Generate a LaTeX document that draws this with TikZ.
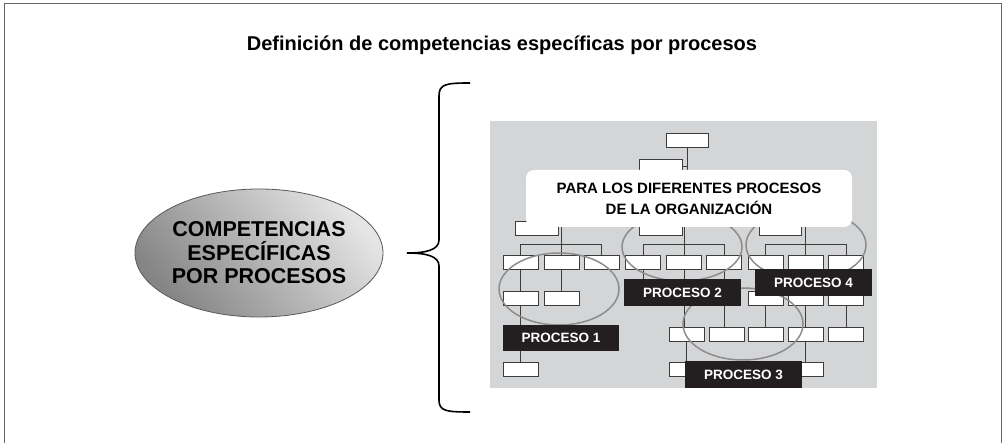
\documentclass[tikz,border=0pt]{standalone}
\usepackage{fontspec}
\setmainfont{Liberation Sans}
\usetikzlibrary{shapes.geometric}
\definecolor{panelgray}{HTML}{D4D5D7}
\definecolor{ringgray}{HTML}{8C8C8C}
\definecolor{labelblack}{HTML}{231F20}
\definecolor{linegray}{HTML}{3C3C3C}
\begin{document}
\begin{tikzpicture}[x=1pt,y=-1pt,
	box/.style={draw=linegray,fill=white,line width=0.9pt,minimum width=35pt,minimum height=14pt,inner sep=0pt},
	wbox/.style={box,minimum width=43pt},
	link/.style={draw=linegray,line width=0.9pt},
	ring/.style={draw=ringgray,line width=1.5pt,ellipse,minimum width=120pt,minimum height=72pt,inner sep=0pt},
	tag/.style={fill=labelblack,text=white,font=\fontsize{13.5}{15}\selectfont\bfseries,minimum width=117pt,minimum height=27pt,inner sep=0pt}]
			\useasboundingbox (0,0) rectangle (1005,443);
			\draw[line width=0.8pt,black!60] (4,443) |- (1001,3) -- (1001,443);
			\node (title) at (502,45) {\fontsize{20}{24}\selectfont\bfseries Definición de competencias específicas por procesos};
			% left ellipse and brace
			\node (comp) at (259,253) [ellipse,draw=black!65,line width=0.8pt,top color=black!10,bottom color=black!48,shading angle=-50,minimum width=248pt,minimum height=128pt,inner sep=0pt,align=center,font=\fontsize{21.5}{23.5}\selectfont\bfseries] {COMPETENCIAS\\ESPECÍFICAS\\POR PROCESOS};
			\draw[line width=1.6pt] (470,83) .. controls (446,83) and (439,84) .. (439,96) -- (439,240) .. controls (439,250) and (426,253) .. (407,253) .. controls (426,253) and (439,256) .. (439,266) -- (439,400) .. controls (439,411) and (446,412) .. (470,412);
			% org chart
			\fill[panelgray] (490,121) rectangle (877,388);
			\node (t) at (687,140) [wbox,minimum width=42pt] {};
			\node (s) at (660.5,166) [wbox] {};
			\node (pA) at (536.5,228) [wbox] {};
			\node (pB) at (660.5,228) [wbox] {};
			\node (pC) at (780,228) [wbox,minimum width=42pt] {};
			\coordinate (g1) at (561.5,222);
			\coordinate (g2) at (684,222);
			\coordinate (g3) at (805.5,222);
			\coordinate (tt) at (687,176);
			\node (a1) at (520.5,262) [box] {};
			\node (a2) at (561.5,262) [box] {};
			\node (a3) at (601.5,262) [box] {};
			\node (a4) at (643,262) [box] {};
			\node (a5) at (684,262) [box] {};
			\node (a6) at (724,262) [box] {};
			\node (a7) at (765.5,262) [box] {};
			\node (a8) at (805.5,262) [box] {};
			\node (a9) at (846,262) [box] {};
			\node (b1) at (520.5,298.5) [box] {};
			\node (b2) at (561.5,298.5) [box] {};
			\node (e7) at (765.5,298) [box] {};
			\node (e8) at (805.5,298) [box] {};
			\node (e9) at (846,298) [box] {};
			\node (c1) at (686.5,334) [box] {};
			\node (c2) at (726.5,334) [box] {};
			\node (c3) at (765.5,334) [box] {};
			\node (c4) at (805.5,334) [box] {};
			\node (c5) at (846,334) [box] {};
			\node (d1) at (520.5,369) [box] {};
			\node (d3) at (686.5,369) [box] {};
			\node (d4) at (805.5,369) [box] {};
			\draw[link] (t) -- (tt);
			\draw[link] (s.east) -- (s.east -| tt);
			\draw[link] (g1) -- (a2.north);
			\draw[link] (a1.north) -- ++(0,-10) -| (a3.north);
			\draw[link] (g2) -- (a5.north);
			\draw[link] (a4.north) -- ++(0,-10) -| (a6.north);
			\draw[link] (g3) -- (a8.north);
			\draw[link] (a7.north) -- ++(0,-10) -| (a9.north);
			\draw[link]
			(a1) edge (b1)
			(a2) edge (b2)
			(b1) edge (d1)
			(a4.south) edge ++(0,16)
			(a5.south) edge (a5.south |- c1.north)
			(a6.south) edge (a6.south |- c2.north)
			(a7) edge (e7)
			(a8) edge (e8)
			(a9) edge (e9)
			(e7) edge (c3)
			(e8) edge (c4)
			(e9) edge (c5)
			(c1) edge (d3)
			(c4) edge (d4)
			;
			% process rings and labels
			\node (ring1) at (559,289) [ring] {};
			\node (ring2) at (682,247) [ring,minimum height=68pt] {};
			\node (ring3) at (743,324) [ring] {};
			\node (ring4) at (806,245) [ring,minimum height=70pt] {};
			\node (p1) at (561,338) [tag,minimum width=116pt,minimum height=26pt] {PROCESO 1};
			\node (p2) at (682.5,292.5) [tag] {PROCESO 2};
			\node (p3) at (743.5,374.5) [tag] {PROCESO 3};
			\node (p4) at (813.5,282.5) [tag] {PROCESO 4};
			\node (note) at (689,198.5) [fill=white,rounded corners=8pt,minimum width=326pt,minimum height=57pt,inner sep=0pt,align=center,font=\fontsize{15}{21}\selectfont\bfseries] {PARA LOS DIFERENTES PROCESOS\\DE LA ORGANIZACIÓN};
		\end{tikzpicture}
\end{document}
